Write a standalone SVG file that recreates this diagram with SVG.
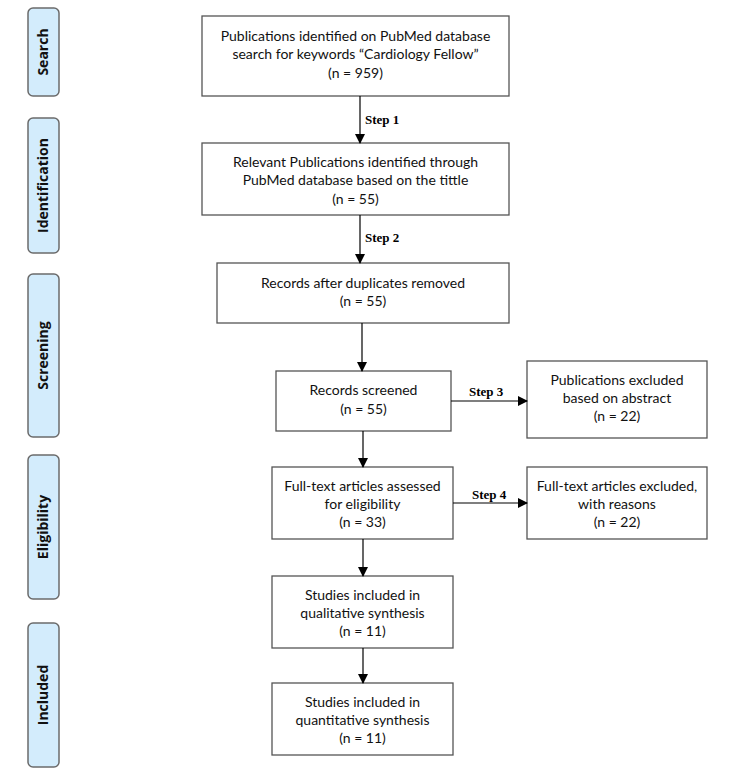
<svg xmlns="http://www.w3.org/2000/svg" width="750" height="769" viewBox="0 0 750 769">
<defs>
<marker id="ah" markerWidth="10" markerHeight="10" refX="9" refY="5" orient="auto" markerUnits="userSpaceOnUse">
<path d="M0,0 L10,5 L0,10 z" fill="#000"/>
</marker>
<style>
.side rect{fill:#d3ecfc;stroke:#6b6b6b;stroke-width:1.5}
.side text{font-family:"Open Sans","Liberation Sans",sans-serif;font-weight:bold;font-size:14px;fill:#111;text-anchor:middle}
.box rect{fill:#fff;stroke:#555;stroke-width:1.3}
.box text{font-family:Lato,"Liberation Sans",sans-serif;font-size:14px;fill:#111;text-anchor:middle}
.conn line{stroke:#000;stroke-width:1.2;marker-end:url(#ah)}
.step{font-family:"Liberation Serif",serif;font-weight:bold;font-size:13px;fill:#000}
</style>
</defs>
<rect width="750" height="769" fill="#fff"/>
<g id="side-search" class="side"><rect x="28" y="8" width="31" height="88" rx="5"/><text transform="translate(48,52) rotate(-90)">Search</text></g>
<g id="side-identification" class="side"><rect x="28" y="118" width="31" height="135" rx="5"/><text transform="translate(48,185.5) rotate(-90)">Identification</text></g>
<g id="side-screening" class="side"><rect x="28" y="274" width="31" height="163" rx="5"/><text transform="translate(48,355.5) rotate(-90)">Screening</text></g>
<g id="side-eligibility" class="side"><rect x="28" y="455" width="31" height="144" rx="5"/><text transform="translate(48,527) rotate(-90)">Eligibility</text></g>
<g id="side-included" class="side"><rect x="28" y="623" width="31" height="144" rx="5"/><text transform="translate(48,695) rotate(-90)">Included</text></g>

<g id="n1" class="box"><rect x="202" y="16" width="307" height="80"/>
<text x="355.5" y="41">Publications identified on PubMed database</text>
<text x="355.5" y="59">search for keywords “Cardiology Fellow”</text>
<text x="355.5" y="78">(n = 959)</text></g>
<g id="n2" class="box"><rect x="202" y="143" width="307" height="72"/>
<text x="355.5" y="167">Relevant Publications identified through</text>
<text x="355.5" y="185">PubMed database based on the tittle</text>
<text x="355.5" y="204">(n = 55)</text></g>
<g id="n3" class="box"><rect x="217" y="263" width="292" height="60"/>
<text x="363" y="288">Records after duplicates removed</text>
<text x="363" y="306">(n = 55)</text></g>
<g id="n4" class="box"><rect x="276" y="371" width="175" height="60"/>
<text x="363.5" y="395">Records screened</text>
<text x="363.5" y="414">(n = 55)</text></g>
<g id="n4x" class="box"><rect x="527" y="361" width="180" height="77"/>
<text x="617" y="385">Publications excluded</text>
<text x="617" y="403">based on abstract</text>
<text x="617" y="421">(n = 22)</text></g>
<g id="n5" class="box"><rect x="272" y="467" width="181" height="72"/>
<text x="362.5" y="491">Full-text articles assessed</text>
<text x="362.5" y="509">for eligibility</text>
<text x="362.5" y="527">(n = 33)</text></g>
<g id="n5x" class="box"><rect x="527" y="467" width="180" height="72"/>
<text x="617" y="491">Full-text articles excluded,</text>
<text x="617" y="509">with reasons</text>
<text x="617" y="527">(n = 22)</text></g>
<g id="n6" class="box"><rect x="272" y="576" width="181" height="72"/>
<text x="362.5" y="600">Studies included in</text>
<text x="362.5" y="618">qualitative synthesis</text>
<text x="362.5" y="636">(n = 11)</text></g>
<g id="n7" class="box"><rect x="272" y="683" width="181" height="72"/>
<text x="362.5" y="707">Studies included in</text>
<text x="362.5" y="725">quantitative synthesis</text>
<text x="362.5" y="743">(n = 11)</text></g>

<g id="connectors" class="conn">
<line x1="360" y1="96" x2="360" y2="143"/>
<line x1="360" y1="215" x2="360" y2="263"/>
<line x1="362" y1="323" x2="362" y2="371"/>
<line x1="363" y1="431" x2="363" y2="467"/>
<line x1="451" y1="401" x2="527" y2="401"/>
<line x1="453" y1="503" x2="527" y2="503"/>
<line x1="363" y1="539" x2="363" y2="576"/>
<line x1="363" y1="648" x2="363" y2="683"/>
<text class="step" x="365" y="124">Step 1</text>
<text class="step" x="365" y="242">Step 2</text>
<text class="step" x="469" y="396">Step 3</text>
<text class="step" x="472" y="499">Step 4</text>
</g>
</svg>
